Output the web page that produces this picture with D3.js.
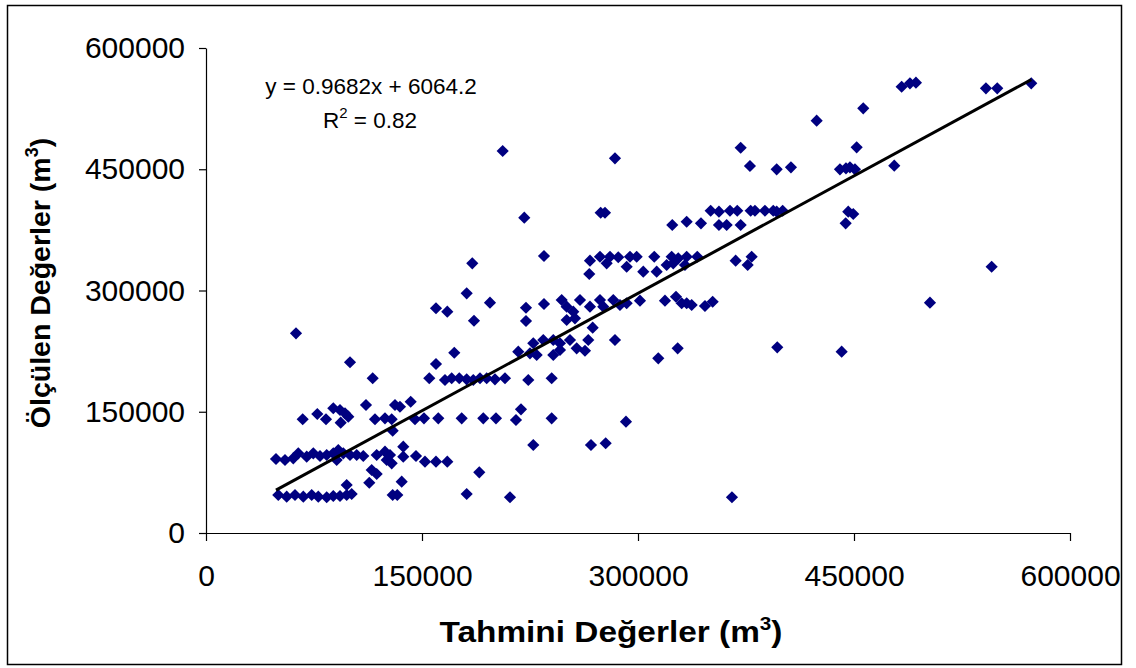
<!DOCTYPE html>
<html>
<head>
<meta charset="utf-8">
<script src="https://cdn.jsdelivr.net/npm/d3@7"></script>
<style>
  body { margin: 0; background: #fff; }
  svg { display: block; font-family: "Liberation Sans", Arial, sans-serif; }
</style>
</head>
<body>
<div id="chart"></div>
<script>
// tahmini (x) / olculen (y) degerler, m3
const tahmini = [
  100000,115760,111100,131240,134700,142150,67150,77290,83330,88400,93050,96520,98810,93540,117350,124300,128950,145130,129640,
  48600,54860,60620,64090,69930,74510,79160,83820,88400,91870,95340,100000,104650,109230,90760,118540,124300,127770,125480,128950,137000,137000,145820,
  115060,118540,113400,135900,97700,
  50200,56040,61800,67570,73400,77980,83820,88400,93050,97700,101170,129640,132840,62500,
  206030,284010,274080,277070,221030,234710,184920,266650,273600,278250,280540,286300,292130,294430,266160,181030,159710,167560,197210,186100,
  222210,222210,234710,247000,250470,255050,259710,256230,250470,266650,273600,275880,282830,268530,284010,172420,159710,216860,227280,234220,
  241170,245820,252760,257410,263180,265470,224990,229640,241170,245820,
  155060,165960,170610,175890,181030,185610,190270,194920,200680,207630,223810,240050,
  151380,161310,177560,192560,201380,215260,240050,218740,291650,227280,267340,277550,152070,159710,167560,189780,181030,211100,
  371300,377750,396300,406220,350460,356220,363870,368930,378240,381220,388170,393930,396300,400460,323800,333800,343730,356220,361570,371300,
  299080,311300,323380,327960,333800,341160,303660,312970,319910,324490,332620,367820,376160,378930,
  287480,292130,301370,318730,326370,330330,333800,337270,346510,351850,396710,314080,327550,365250,
  424070,456430,483090,488860,493020,541630,549480,573090,451850,440250,444420,447190,450670,477960,446010,449490,444210,545590,502750,441430
];
const olculen = [
  211200,191400,158300,158300,156200,162400,140700,147200,140700,154300,152200,148100,143900,136500,140700,141900,140700,140700,126600,
  91500,90300,92400,98600,94400,98600,95300,96500,98600,102700,98600,96500,96500,95300,90300,96500,100600,96500,90300,86200,106800,94400,95300,
  77900,73000,62200,63500,59400,
  47000,44900,47000,44900,47000,44900,44200,45800,45800,47000,48200,47000,47000,247000,
  472600,463500,396200,396200,390100,342700,333600,336900,341800,333600,341800,341100,329400,341800,320400,296500,278000,273800,284900,262600,
  278700,262300,283300,288200,280000,273800,288200,265600,263500,280000,288200,280000,288200,254000,238800,223000,209100,224300,234700,238800,
  238800,234700,238800,228500,225500,238800,222300,220200,220200,226400,
  191400,189300,191400,191400,190100,189300,191400,191400,190100,191400,189300,191400,
  141900,141900,141900,141900,141900,139800,141900,153000,137700,108900,108900,111000,88200,88200,88200,75100,48200,44200,
  476600,454000,449900,452400,398700,397500,398700,398700,398700,398700,398700,398700,397500,398700,381000,385100,383100,381000,381000,381000,
  341800,341800,341800,339800,341800,341800,323300,323300,331500,333600,331500,336900,331500,341800,
  282100,284200,287400,287400,292300,284200,284200,282100,280800,286100,229700,216100,228500,44200,
  510100,525400,552100,556300,557100,550100,550100,556300,477100,449900,451100,452400,449900,454400,397500,394600,383100,329400,284900,224300
];

// trend line from the chart
const slope = 0.9682;
const intercept = 6064.2;
const eqLines = ["y = 0.9682x + 6064.2", "R2 = 0.82"];

const xTicks = [0, 150000, 300000, 450000, 600000];
const yTicks = [0, 150000, 300000, 450000, 600000];

const W = 1136, H = 668;
const svg = d3.select('#chart').append('svg')
    .attr('width', W)
    .attr('height', H);

svg.append('rect').attr('width', W).attr('height', H).attr('fill', '#fff');
// outer frame
svg.append('rect')
    .attr('x', 7.5).attr('y', 5.5)
    .attr('width', 1114).attr('height', 659)
    .attr('fill', 'none').attr('stroke', '#000').attr('stroke-width', 1.5);

const x = d3.scaleLinear().domain([0, 600000]).range([206, 1070]);
const y = d3.scaleLinear().domain([0, 600000]).range([533, 48]);

const xAxis = svg.append('g')
    .attr('transform', `translate(0,${y(0)})`)
    .call(d3.axisBottom(x).tickValues(xTicks).tickSize(8).tickSizeOuter(0).tickPadding(24).tickFormat(d3.format('d')));
const yAxis = svg.append('g')
    .attr('transform', `translate(${x(0)},0)`)
    .call(d3.axisLeft(y).tickValues(yTicks).tickSize(7).tickSizeOuter(0).tickPadding(14).tickFormat(d3.format('d')));

[xAxis, yAxis].forEach(g => {
  g.select('.domain').attr('stroke', '#000').attr('stroke-width', 1.2);
  g.selectAll('.tick line').attr('stroke', '#000').attr('stroke-width', 1.2);
  g.selectAll('.tick text')
      .attr('fill', '#000')
      .style('font-family', '"Liberation Sans", Arial, sans-serif')
      .style('font-size', '30px');
});

// points
const pts = tahmini.map((v, i) => [v, olculen[i]]);
const diamond = d3.symbol().type(d3.symbolSquare).size(74);
svg.append('g')
  .selectAll('path')
  .data(pts)
  .enter()
  .append('path')
  .attr('d', diamond)
  .attr('transform', d => `translate(${x(d[0])},${y(d[1])}) rotate(45)`)
  .attr('fill', '#000080');

// trend line
const xExt = d3.extent(tahmini);
const line = d3.line().x(d => x(d)).y(d => y(slope * d + intercept));
svg.append('path')
    .datum(xExt)
    .attr('d', line)
    .attr('fill', 'none')
    .attr('stroke', '#000')
    .attr('stroke-width', 3);

// equation
const eq = svg.append('g').style('font-size', '22.5px').attr('fill', '#000');
eq.append('text').attr('x', 371).attr('y', 94).attr('text-anchor', 'middle').text(eqLines[0]);
const r2 = eq.append('text').attr('x', 370).attr('y', 128).attr('text-anchor', 'middle');
r2.append('tspan').text('R');
r2.append('tspan').attr('dy', -10).style('font-size', '15px').text('2');
r2.append('tspan').attr('dy', 10).text(' = 0.82');

// axis titles
function title(sel, label) {
  sel.append('tspan').text(label + ' (m');
  sel.append('tspan').attr('dy', -12).style('font-size', '18px').text('3');
  sel.append('tspan').attr('dy', 12).text(')');
}
const xt = svg.append('text')
    .attr('text-anchor', 'middle')
    .style('font-size', '29px').style('font-weight', 'bold');
title(xt, 'Tahmini Değerler');
// stretch to the width it has in the chart
const xtw = xt.node().getComputedTextLength();
xt.attr('transform', `translate(611,642) scale(${343 / xtw},1)`);

const yt = svg.append('text')
    .attr('transform', 'translate(50,283) rotate(-90)')
    .attr('text-anchor', 'middle')
    .style('font-size', '28.5px').style('font-weight', 'bold');
title(yt, 'Ölçülen Değerler');
</script>
</body>
</html>
